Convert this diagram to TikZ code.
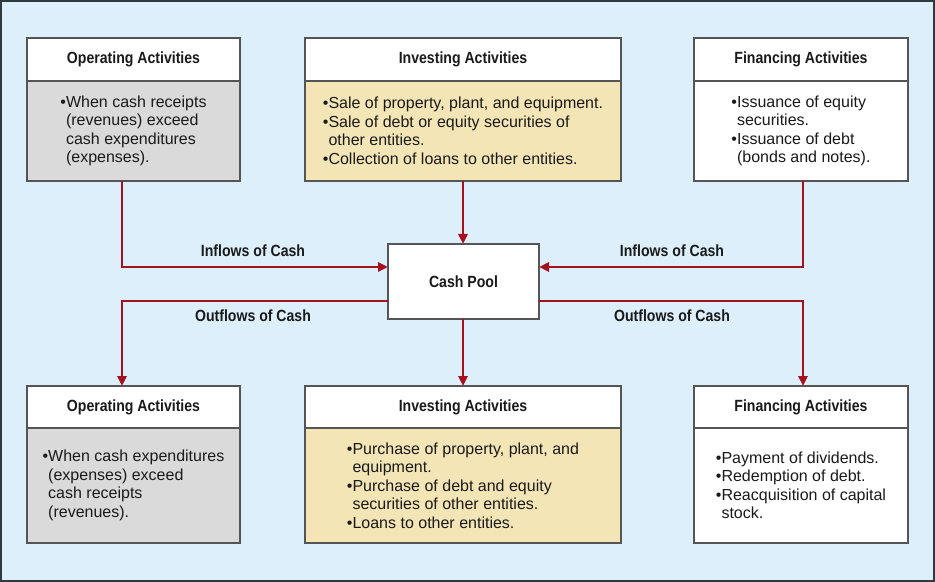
\documentclass[tikz,border=0pt]{standalone}
\usepackage{fontspec}
\setmainfont{Liberation Sans}
\newfontfamily\titlefont{Liberation Sans}[FakeStretch=0.87]
\usetikzlibrary{arrows.meta}
\definecolor{bgblue}{HTML}{DCEFFB}
\definecolor{framec}{HTML}{2E3A40}
\definecolor{boxline}{HTML}{555555}
\definecolor{grayfill}{HTML}{DADADA}
\definecolor{tanfill}{HTML}{F4E5B6}
\definecolor{arrred}{HTML}{A5121D}
\definecolor{txt}{HTML}{1A1A1A}
\tikzset{
  boxbase/.style={draw=boxline, line width=1.8bp, rectangle, inner sep=0pt, outer sep=0pt, text=txt},
  hdr/.style={boxbase, fill=white, minimum width=#1, font={\titlefont\bfseries\fontsize{16.2bp}{18.5bp}\selectfont}},
  bodybox/.style={boxbase, align=left, font={\fontsize{16bp}{18.5bp}\selectfont}},
  poolbox/.style={boxbase, fill=white, minimum width=151bp, minimum height=75bp, font={\titlefont\bfseries\fontsize{16.2bp}{18.5bp}\selectfont}},
  flowlabel/.style={text=txt, inner sep=0pt, font={\titlefont\bfseries\fontsize{16.2bp}{18.5bp}\selectfont}},
  arr/.style={draw=arrred, line width=2.7bp, -{Triangle[length=10bp, width=9bp]}}
}
\newcommand{\bl}{\phantom{\textbullet}}
\begin{document}
\begin{tikzpicture}[x=1bp, y=-1bp]
\useasboundingbox (0,0) rectangle (935,582);
\fill[bgblue, draw=framec, line width=2bp] (1,1) rectangle (933.5,580.5);

% top row
\node[hdr=213bp, minimum height=43bp] (tlh) at (133.5,59.5) {Operating Activities};
\node[bodybox, fill=grayfill, minimum width=213bp, minimum height=100bp] (tlb) at (133.5,131)
  {\textbullet When cash receipts\\\bl(revenues) exceed\\\bl cash expenditures\\\bl(expenses).};
\node[hdr=316bp, minimum height=43bp] (tmh) at (463,59.5) {Investing Activities};
\node[bodybox, fill=tanfill, minimum width=316bp, minimum height=100bp] (tmb) at (463,131)
  {\textbullet Sale of property, plant, and equipment.\\\textbullet Sale of debt or equity securities of\\\bl other entities.\\\textbullet Collection of loans to other entities.};
\node[hdr=214bp, minimum height=43bp] (trh) at (801,59.5) {Financing Activities};
\node[bodybox, fill=white, minimum width=214bp, minimum height=100bp] (trb) at (801,131)
  {\textbullet Issuance of equity\\\bl securities.\\\textbullet Issuance of debt\\\bl(bonds and notes).};

% cash pool
\node[poolbox] (cp) at (463.5,281.5) {Cash Pool};

% bottom row
\node[hdr=213bp, minimum height=42bp] (blh) at (133.5,407) {Operating Activities};
\node[bodybox, fill=grayfill, minimum width=213bp, minimum height=115bp] (blb) at (133.5,485.5)
  {\textbullet When cash expenditures\\\bl(expenses) exceed\\\bl cash receipts\\\bl(revenues).};
\node[hdr=316bp, minimum height=42bp] (bmh) at (463,407) {Investing Activities};
\node[bodybox, fill=tanfill, minimum width=316bp, minimum height=115bp] (bmb) at (463,485.5)
  {\textbullet Purchase of property, plant, and\\\bl equipment.\\\textbullet Purchase of debt and equity\\\bl securities of other entities.\\\textbullet Loans to other entities.};
\node[hdr=214bp, minimum height=42bp] (brh) at (801,407) {Financing Activities};
\node[bodybox, fill=white, minimum width=214bp, minimum height=115bp] (brb) at (801,485.5)
  {\textbullet Payment of dividends.\\\textbullet Redemption of debt.\\\textbullet Reacquisition of capital\\\bl stock.};

% connectors
\draw[arr] ([xshift=-11.5bp]tlb.south) |- ([yshift=14.5bp]cp.west);
\draw[arr] (tmb.south) -- (tmb.south |- cp.north);
\draw[arr] ([xshift=2bp]trb.south) |- ([yshift=14.5bp]cp.east);
\draw[arr] ([yshift=-19.5bp]cp.west) -| ([xshift=-11.5bp]blh.north);
\draw[arr] (cp.south -| bmh.north) -- (bmh.north);
\draw[arr] ([yshift=-19.5bp]cp.east) -| ([xshift=2bp]brh.north);

% labels
\node[flowlabel] (l1) at (253,251) {Inflows of Cash};
\node[flowlabel] (l2) at (253,316) {Outflows of Cash};
\node[flowlabel] (l3) at (672,251) {Inflows of Cash};
\node[flowlabel] (l4) at (672,316) {Outflows of Cash};
\end{tikzpicture}
\end{document}
